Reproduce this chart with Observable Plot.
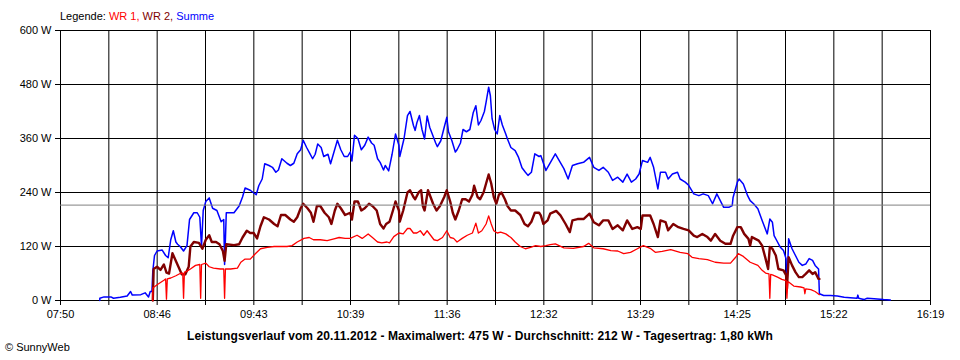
<!DOCTYPE html>
<html>
<head>
<meta charset="utf-8">
<script src="https://cdn.jsdelivr.net/npm/d3@7"></script>
<script src="https://cdn.jsdelivr.net/npm/@observablehq/plot@0.6"></script>
<style>
  html, body { margin: 0; padding: 0; background: #fff; }
  #wrap { position: relative; width: 960px; height: 360px; font-family: "Liberation Sans", Arial, sans-serif; font-size: 11px; color: #000; }
  .ov { position: absolute; white-space: nowrap; line-height: 13px; }
</style>
</head>
<body>
<div id="wrap"></div>
<script>
// ---- chart values ----
const xTickLabels = ["07:50","08:46","09:43","10:39","11:36","12:32","13:29","14:25","15:22","16:19"];
const yTicks = [0, 120, 240, 360, 480, 600];
const averageW = 212;
const legendItems = ["WR 1", "WR 2", "Summe"];
const captionText = "Leistungsverlauf vom 20.11.2012 - Maximalwert: 475 W - Durchschnitt: 212 W - Tagesertrag: 1,80 kWh";
const creditText = "© SunnyWeb";

// Summe (blue)
const summe = [
["08:13",0],["08:13",5],["08:15:30",8],["08:19:30",8],["08:21",5],["08:25",7],["08:29",10],["08:31",20],["08:32",12],
["08:37",13],["08:39:30",17],["08:41:30",8],["08:42:30",20],["08:43:30",20],["08:44",65],["08:45",100],["08:46:30",110],
["08:49:30",112],["08:51:30",100],["08:53",95],["08:54:30",135],["08:56",155],["08:57:30",130],["08:58:30",125],
["09:00",120],["09:02",110],["09:04",122],["09:05:30",180],["09:08",195],["09:10",195],["09:11:30",185],["09:12:30",120],
["09:13:30",200],["09:15",220],["09:17",228],["09:19",205],["09:21:30",200],["09:24",175],["09:25:30",180],["09:26",80],
["09:27",195],["09:31:30",195],["09:34:30",210],["09:36:30",230],["09:38",250],["09:41",245],["09:44:30",235],["09:46",255],
["09:48",270],["09:49:30",304],["09:52",300],["09:54",296],["09:56",285],["09:57:30",290],["09:59:30",315],["10:02:30",305],
["10:04:30",300],["10:06:30",305],["10:08:30",326],["10:10:30",335],["10:12",356],["10:14",340],["10:16",326],["10:17:30",315],
["10:19",325],["10:20:30",348],["10:22:30",340],["10:24",320],["10:26:30",325],["10:28",304],["10:30",330],["10:32",356],
["10:34",335],["10:36",320],["10:38",320],["10:39:30",330],["10:40:30",310],["10:42",367],["10:44",360],["10:46",335],
["10:48",345],["10:50",363],["10:52",350],["10:53:30",345],["10:55:30",315],["10:57",307],["10:59",290],["11:00",300],
["11:02",288],["11:04",325],["11:06",370],["11:08",345],["11:08:30",320],["11:11",360],["11:13",411],["11:14:30",420],
["11:16:30",389],["11:17:30",378],["11:18:30",395],["11:20",411],["11:21:30",380],["11:23",359],["11:24:30",410],["11:26",385],
["11:27:30",370],["11:29:30",350],["11:30:30",342],["11:32:30",355],["11:34:30",385],["11:36",407],["11:37",375],["11:39",355],
["11:41",330],["11:42",335],["11:44",350],["11:45:30",380],["11:47:30",375],["11:49:30",380],["11:51:30",418],["11:53",433],
["11:54:30",390],["11:56",400],["11:58",420],["11:59",441],["12:00:30",474],["12:01:30",455],["12:02:30",404],["12:04",380],
["12:05:30",370],["12:07",411],["12:08:30",390],["12:10:30",370],["12:11:30",359],["12:13:30",340],["12:16",333],["12:18",318],
["12:20",295],["12:22",285],["12:23:30",278],["12:25:30",285],["12:27:30",326],["12:30",320],["12:31",322],["12:34",289],
["12:39:30",326],["12:44:30",293],["12:47",270],["12:49:30",300],["12:52:30",304],["12:56",307],["12:59:30",318],["13:02",296],
["13:05",289],["13:07:30",296],["13:10:30",285],["13:13",267],["13:16",274],["13:19",263],["13:21:30",281],["13:24",263],
["13:26:30",270],["13:28:30",281],["13:30:30",311],["13:33:30",307],["13:35",318],["13:37",296],["13:39:30",248],["13:41",285],
["13:44",285],["13:45:30",270],["13:48",281],["13:51",285],["13:52:30",270],["13:55:30",263],["13:57:30",256],["14:00:30",237],
["14:03:30",233],["14:06",237],["14:09",233],["14:11:30",215],["14:14",237],["14:16",222],["14:18",207],["14:21",207],
["14:23",211],["14:23:30",229],["14:26",263],["14:27",270],["14:29:30",259],["14:32",233],["14:33:30",222],["14:35:30",215],
["14:38",204],["14:40:30",178],["14:43:30",148],["14:45",181],["14:46:30",174],["14:47:30",144],["14:49:30",130],["14:51",119],
["14:53",111],["14:54:30",93],["14:55",26],["14:56",137],["14:58",115],["15:00",100],["15:02",85],["15:04",78],["15:06",81],
["15:08",93],["15:10",89],["15:11:30",78],["15:13:30",70],["15:14",15],["15:16:30",11],["15:20:30",11],["15:24:30",10],
["15:28:30",7],["15:32",6],["15:36",5],["15:36:30",12],["15:37",5],["15:40",2],["15:42",5],["15:46",4],["15:51:30",2],["15:55:30",1]
];

// WR 2 (dark red)
const wr2 = [
["08:44",0],["08:44:30",70],["08:46:30",75],["08:48:30",68],["08:50:30",80],["08:52",62],["08:53:30",60],["08:55:30",105],
["08:57:30",88],["08:59",75],["09:01",58],["09:03",58],["09:05",75],["09:06",120],["09:08",130],["09:11",128],["09:13",115],
["09:15",135],["09:17",145],["09:18:30",130],["09:21",130],["09:23",125],["09:25",110],["09:26",88],["09:27",125],
["09:31:30",123],["09:34:30",125],["09:36:30",140],["09:39",155],["09:41",150],["09:43",150],["09:45",138],["09:47",165],
["09:49",185],["09:52",180],["09:55",170],["09:57",165],["09:59",190],["10:01:30",190],["10:04:30",180],["10:06:30",175],
["10:08:30",185],["10:10:30",205],["10:12",215],["10:14:30",205],["10:16:30",195],["10:18",175],["10:20",210],["10:22",210],
["10:24:30",195],["10:27",185],["10:28:30",170],["10:30:30",200],["10:32",215],["10:34",205],["10:36:30",190],["10:39:30",195],
["10:40:30",180],["10:42",220],["10:44",220],["10:46",200],["10:48",205],["10:50:30",215],["10:52:30",210],["10:55",200],
["10:57",170],["10:59",160],["11:00:30",170],["11:02:30",175],["11:04:30",200],["11:06",220],["11:08",200],["11:08:30",175],
["11:10:30",200],["11:13",240],["11:14:30",245],["11:16:30",230],["11:17:30",225],["11:19:30",240],["11:21",245],["11:22",210],
["11:23",200],["11:25",245],["11:26:30",230],["11:28",215],["11:30",200],["11:32",210],["11:34:30",230],["11:36",245],
["11:38",220],["11:39:30",195],["11:41",180],["11:43",200],["11:45",225],["11:47",225],["11:49",220],["11:51",235],
["11:52",255],["11:54",230],["11:55:30",225],["11:57:30",240],["11:59",260],["12:00:30",280],["12:02",260],["12:03:30",230],
["12:05",215],["12:06:30",235],["12:08",240],["12:10",225],["12:11:30",210],["12:13:30",200],["12:16",200],["12:19",190],
["12:21:30",170],["12:23:30",165],["12:25:30",175],["12:27:30",195],["12:30",195],["12:31",189],["12:32:30",170],["12:35",178],
["12:36:30",193],["12:40",199],["12:42:30",189],["12:45:30",170],["12:48",152],["12:49:30",178],["12:52:30",181],["12:56",181],
["12:59:30",193],["13:02",174],["13:05",167],["13:07:30",178],["13:10:30",178],["13:13",159],["13:16",167],["13:19",156],
["13:21:30",178],["13:24:30",159],["13:27:30",163],["13:29:30",159],["13:30:30",189],["13:35",189],["13:37",170],["13:39:30",141],
["13:41",178],["13:44",174],["13:45:30",156],["13:48:30",170],["13:51:30",163],["13:54:30",159],["13:57:30",156],["14:00:30",144],
["14:02:30",141],["14:05:30",148],["14:08:30",141],["14:10:30",133],["14:13",148],["14:16",133],["14:19",126],["14:22",126],
["14:23:30",144],["14:26",163],["14:28",163],["14:30",148],["14:32:30",137],["14:33:30",122],["14:34:30",141],["14:36:30",137],
["14:38:30",133],["14:40:30",122],["14:42:30",93],["14:44",70],["14:45",119],["14:46:30",115],["14:48:30",100],["14:50",70],
["14:53",67],["14:54:30",56],["14:55",26],["14:56",96],["14:58",78],["15:00",63],["15:02",52],["15:04",52],["15:06",59],
["15:08",67],["15:10",59],["15:11:30",63],["15:13:30",48],["15:14",48]
];

// WR 1 (red)
const wr1 = [
["08:44",0],["08:44",28],["08:46:30",35],["08:48:30",40],["08:50:30",45],["08:51:30",48],["08:52",3],["08:52:30",48],
["08:54:30",50],["08:57:30",55],["09:00",60],["09:01:30",61],["09:02",5],["09:02:30",63],["09:04",65],["09:06",70],
["09:09",78],["09:11:30",80],["09:12",5],["09:12:30",80],["09:15",83],["09:17",75],["09:19:30",72],["09:23:30",70],
["09:25:30",70],["09:26",5],["09:26:30",70],["09:29:30",70],["09:33:30",72],["09:35:30",85],["09:38",92],["09:41",92],
["09:44",104],["09:47",115],["09:51",118],["09:55",120],["09:58:30",120],["10:02:30",120],["10:05:30",122],["10:08:30",130],
["10:12:30",138],["10:15:30",140],["10:18",135],["10:22",135],["10:26",133],["10:30",137],["10:33",140],["10:36:30",138],
["10:39:30",138],["10:43:30",145],["10:46:30",138],["10:50",148],["10:52:30",140],["10:55:30",130],["10:58",128],["11:01",130],
["11:02:30",128],["11:05",142],["11:08",150],["11:10:30",148],["11:13",160],["11:14:30",160],["11:16:30",150],["11:18:30",150],
["11:20:30",155],["11:22:30",145],["11:24:30",155],["11:26:30",145],["11:28:30",135],["11:30:30",133],["11:33:30",140],
["11:36",155],["11:38",140],["11:40",138],["11:42",130],["11:45",138],["11:48",145],["11:51",150],["11:53",172],["11:54:30",150],
["11:56:30",155],["11:59",170],["12:00:30",188],["12:02",170],["12:03:30",155],["12:05:30",150],["12:07:30",152],["12:10:30",148],
["12:13:30",140],["12:16",130],["12:19",120],["12:22",115],["12:25",118],["12:28",122],["12:31",120],["12:34",122],
["12:36:30",124],["12:39:30",126],["12:44:30",117],["12:50",116],["12:56",120],["12:59",127],["13:02",117],["13:07:30",115],
["13:12",111],["13:16",110],["13:19:30",104],["13:23:30",107],["13:27:30",115],["13:29:30",119],["13:31",122],["13:35",116],
["13:38",107],["13:42",109],["13:47",113],["13:52:30",107],["13:57",104],["13:59:30",96],["14:03:30",93],["14:08:30",91],
["14:13",85],["14:18",83],["14:22",83],["14:25",96],["14:26:30",104],["14:29:30",98],["14:33:30",85],["14:38",78],
["14:40:30",67],["14:42:30",61],["14:44:30",59],["14:45",5],["14:45:30",58],["14:46:30",57],["14:49:30",52],["14:52",47],
["14:54:30",44],["14:55",5],["14:55:30",42],["14:56",41],["14:59",32],["15:03",30],["15:05",28],["15:05:30",15],["15:06",26],
["15:09",24],["15:11:30",20],["15:14",13]
];

const colors = {"WR 1": "#ff0000", "WR 2": "#800000", "Summe": "#0000ff"};

// ---- build ----
const parseT = s => { const [h, m, sec = 0] = s.split(":").map(Number); return h * 60 + m + sec / 60; };
const rows = arr => arr.map(([t, w]) => ({t: parseT(t), w}));
const t0 = parseT(xTickLabels[0]);
const t1 = parseT(xTickLabels[xTickLabels.length - 1]);
const nGrid = (xTickLabels.length - 1) * 2;
const step = (t1 - t0) / nGrid;
const gridTicks = d3.range(nGrid + 1).map(i => t0 + i * step);
const labelFor = d => { const i = Math.round((d - t0) / step); return i % 2 === 0 ? xTickLabels[i / 2] : ""; };

const chart = Plot.plot({
  width: 960,
  height: 360,
  marginLeft: 60,
  marginRight: 30,
  marginTop: 30,
  marginBottom: 60,
  style: {fontFamily: '"Liberation Sans", Arial, sans-serif', fontSize: "11px", background: "white", color: "black", overflow: "visible"},
  x: {domain: [t0, t1], label: null},
  y: {domain: [0, 600], label: null},
  marks: [
    Plot.gridX(gridTicks, {stroke: "black", strokeOpacity: 1}),
    Plot.gridY(yTicks, {stroke: "black", strokeOpacity: 1}),
    Plot.axisX(gridTicks, {tickSize: 5, tickPadding: 5, tickFormat: labelFor, stroke: "black", fill: "black", fontSize: 11, label: null}),
    Plot.axisY(yTicks, {tickSize: 5, tickPadding: 4, tickFormat: d => d + " W", stroke: "black", fill: "black", fontSize: 11, label: null}),
    Plot.line(rows(summe), {x: "t", y: "w", stroke: colors["Summe"], strokeWidth: 1.5}),
    Plot.line(rows(wr2), {x: "t", y: "w", stroke: colors["WR 2"], strokeWidth: 2.4}),
    Plot.line(rows(wr1), {x: "t", y: "w", stroke: colors["WR 1"], strokeWidth: 1.3}),
    Plot.ruleY([averageW], {stroke: "#808080", strokeWidth: 1})
  ]
});

const wrap = document.getElementById("wrap");
wrap.appendChild(chart);

const legend = document.createElement("div");
legend.className = "ov";
legend.style.left = "60px";
legend.style.top = "10px";
legend.append("Legende: ");
legendItems.forEach((name, i) => {
  const s = document.createElement("span");
  s.style.color = colors[name];
  s.textContent = name + (i < legendItems.length - 1 ? ", " : "");
  legend.appendChild(s);
});
wrap.appendChild(legend);

const cap = document.createElement("div");
cap.className = "ov";
cap.style.left = "0px";
cap.style.width = "960px";
cap.style.textAlign = "center";
cap.style.top = "330px";
cap.style.fontWeight = "bold";
cap.style.fontSize = "12px";
cap.style.letterSpacing = "0.1px";
cap.textContent = captionText;
wrap.appendChild(cap);

const credit = document.createElement("div");
credit.className = "ov";
credit.style.left = "5px";
credit.style.top = "341px";
credit.textContent = creditText;
wrap.appendChild(credit);
</script>
</body>
</html>
